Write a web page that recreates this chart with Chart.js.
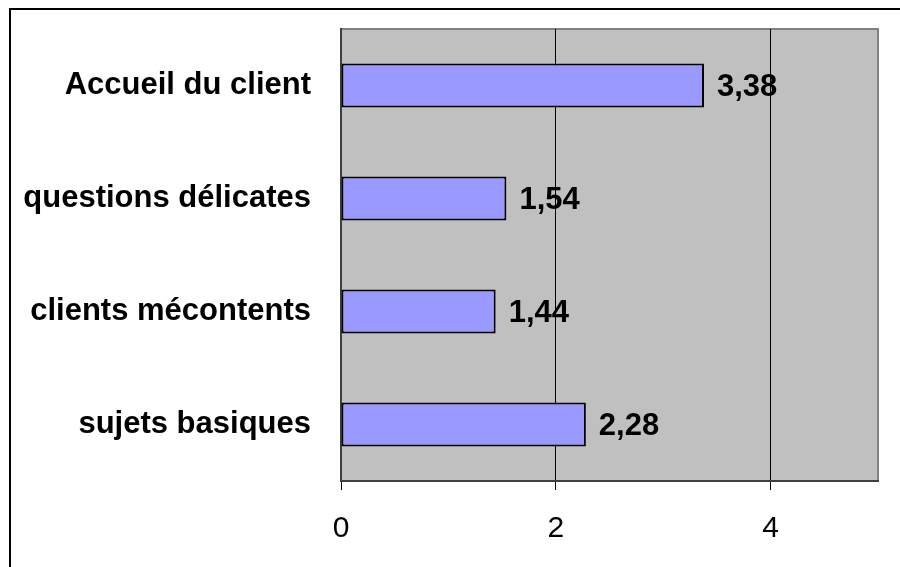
<!DOCTYPE html>
<html lang="fr">
<head>
<meta charset="utf-8">
<title>Scores par thème</title>
<script src="https://cdn.jsdelivr.net/npm/chart.js@4/dist/chart.umd.min.js"></script>
<style>
  html, body { margin: 0; padding: 0; background: #fff; }
  #wrap { width: 900px; height: 567px; position: relative; }
</style>
</head>
<body>
<div id="wrap"><canvas id="chart" width="900" height="567"></canvas></div>
<script>
  'use strict';

  // valeurs du graphique
  const categories = ['Accueil du client', 'questions délicates', 'clients mécontents', 'sujets basiques'];
  const scores = [3.38, 1.54, 1.44, 2.28];
  const xTicks = [0, 2, 4];
  const xMax = 5;

  const FONT = "'Liberation Sans', Arial, sans-serif";
  const fmt = (v) => v.toFixed(2).replace('.', ',');

  // cadre extérieur + fond gris de la zone de tracé
  const framePlugin = {
    id: 'frame',
    beforeDraw(chart) {
      const { ctx, chartArea: a } = chart;
      ctx.save();
      ctx.fillStyle = '#fff';
      ctx.fillRect(0, 0, chart.width, chart.height);
      ctx.strokeStyle = '#000';
      ctx.lineWidth = 2;
      ctx.beginPath();
      ctx.moveTo(10, chart.height);
      ctx.lineTo(10, 9);
      ctx.lineTo(chart.width, 9);
      ctx.stroke();
      ctx.fillStyle = '#c0c0c0';
      ctx.fillRect(a.left, a.top, a.right - a.left, a.bottom - a.top);
      ctx.strokeStyle = '#808080';
      ctx.lineWidth = 2;
      ctx.beginPath();
      ctx.moveTo(a.left, a.top);
      ctx.lineTo(a.right, a.top);
      ctx.lineTo(a.right, a.bottom);
      ctx.stroke();
      ctx.restore();
    }
  };

  // étiquettes de valeur à droite des barres
  const valueLabels = {
    id: 'valueLabels',
    afterDatasetsDraw(chart) {
      const { ctx } = chart;
      const meta = chart.getDatasetMeta(0);
      ctx.save();
      ctx.font = 'bold 31px ' + FONT;
      ctx.fillStyle = '#000';
      ctx.textAlign = 'left';
      ctx.textBaseline = 'middle';
      meta.data.forEach((bar, i) => {
        ctx.fillText(fmt(scores[i]), bar.x + 13, bar.y + 2);
      });
      ctx.restore();
    }
  };

  new Chart(document.getElementById('chart'), {
    type: 'bar',
    data: {
      labels: categories,
      datasets: [{
        data: scores,
        backgroundColor: '#9999ff',
        borderColor: '#000',
        borderWidth: 2,
        borderSkipped: false,
        categoryPercentage: 1,
        barPercentage: 0.39
      }]
    },
    options: {
      indexAxis: 'y',
      responsive: false,
      animation: false,
      layout: { padding: { left: 0, top: 29, right: 22, bottom: 0 } },
      plugins: {
        legend: { display: false },
        tooltip: { enabled: false }
      },
      scales: {
        x: {
          min: 0,
          max: xMax,
          afterBuildTicks: (scale) => { scale.ticks = xTicks.map((v) => ({ value: v })); },
          afterFit: (scale) => { scale.height = 86; },
          border: { color: '#404040', width: 2 },
          grid: {
            color: (c) => (c.tick && c.tick.value === 0 ? 'rgba(0,0,0,0)' : '#000'),
            tickColor: '#000',
            tickLength: 9,
            lineWidth: 1
          },
          ticks: {
            color: '#000',
            padding: 21,
            font: { family: FONT, size: 30 }
          }
        },
        y: {
          afterFit: (scale) => {
            scale.width = 341;
            scale.paddingTop = 0;
            scale.paddingBottom = 0;
          },
          border: { color: '#404040', width: 2 },
          grid: { display: false, drawTicks: false },
          ticks: {
            color: '#000',
            padding: 30,
            font: { family: FONT, size: 31, weight: 'bold' }
          }
        }
      }
    },
    plugins: [framePlugin, valueLabels]
  });
</script>
</body>
</html>
